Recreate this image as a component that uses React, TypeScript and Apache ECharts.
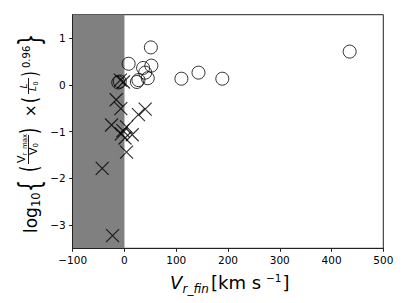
import React, { useEffect, useRef } from "react";
import * as echarts from "echarts";

const xTicks = [-100, 0, 100, 200, 300, 400, 500];
const yTicks = [-3, -2, -1, 0, 1];
const shadedRange = [-100, 0];

const circlePoints: number[][] = [
  [435, 0.71], [51, 0.80], [52, 0.41], [8, 0.45], [36, 0.36], [40, 0.26],
  [45, 0.14], [27, 0.10], [24, 0.06], [-9, 0.07], [-12, 0.05],
  [110, 0.13], [143, 0.26], [189, 0.13],
];

const crossPoints: number[][] = [
  [-23, -3.23], [-43, -1.79], [4, -1.44], [-25, -0.86], [-16, -0.32],
  [-7, -0.51], [40, -0.52], [27, -0.64], [-8, 0.1], [4, -0.9],
  [-3, -0.98], [-6, -1.05], [15, -1.07], [1, -1.14], [-2, 0.06],
];

const FONT = "DejaVu Sans";

function txt(u: number, v: number, text: string, size: number, italic = false) {
  return {
    type: "text",
    x: u,
    y: v,
    style: {
      text,
      fontSize: size,
      fontFamily: FONT,
      fontStyle: italic ? "italic" : "normal",
      fill: "#000",
      align: "left",
      verticalAlign: "middle",
      textAlign: "left",
      textVerticalAlign: "middle",
    },
  };
}

function tall(u: number, v: number, text: string, size: number, scale: number) {
  return {
    type: "group",
    x: u,
    y: v,
    scaleY: scale,
    children: [txt(0, 0, text, size)],
  };
}

function bar(u1: number, u2: number, v: number) {
  return {
    type: "line",
    shape: { x1: u1, y1: v, x2: u2, y2: v },
    style: { stroke: "#000", lineWidth: 0.9 },
  };
}

export default function App() {
  const ref = useRef<HTMLDivElement>(null);
  useEffect(() => {
    if (!ref.current) return;
    const chart = echarts.init(ref.current, null, { renderer: "svg" });
    const yLabel = {
      type: "group",
      x: 28.5,
      y: 233,
      rotation: Math.PI / 2,
      children: [
        txt(0, 2.2, "log", 17),
        txt(26, 7.2, "10", 11.5),
        tall(41, 1, "{", 19, 1.6),
        tall(61, 1, "(", 16, 1.5),
        txt(70, -7.4, "V", 11),
        txt(77.5, -4, "r_max", 7),
        bar(69, 98, 0),
        txt(78, 4.6, "V", 11),
        txt(85.5, 7.5, "0", 7),
        tall(99, 1, ")", 16, 1.5),
        txt(116, 2.5, "\u00d7", 15),
        tall(130, 1, "(", 15, 1.4),
        txt(144.5, -4.7, "L", 9, true),
        bar(139, 155, 0),
        txt(142, 4.8, "L", 9, true),
        txt(147.5, 7.2, "0", 6.5),
        tall(156, 1, ")", 15, 1.4),
        txt(165, -2, "0.96", 10),
        tall(187, 1, "}", 19, 1.6),
      ],
    };
    const base = 287;
    const xText = (x: number, y: number, text: string, size: number, italic = false) => ({
      type: "text",
      x,
      y,
      style: {
        text,
        fontSize: size,
        fontFamily: FONT,
        fontStyle: italic ? "italic" : "normal",
        fill: "#000",
        align: "left",
        verticalAlign: "bottom",
        textAlign: "left",
        textVerticalAlign: "bottom",
      },
    });
    chart.setOption({
      animation: false,
      backgroundColor: "#fff",
      grid: {
        left: 72.7,
        right: 20.7,
        top: 14.7,
        bottom: 54.7,
        show: true,
        borderColor: "#222",
        borderWidth: 1,
        backgroundColor: "transparent",
      },
      xAxis: {
        type: "value",
        min: -100,
        max: 500,
        interval: 100,
        axisLine: { show: true, onZero: false, lineStyle: { color: "#222" } },
        axisTick: { show: true, length: 3.5, lineStyle: { color: "#222" } },
        axisLabel: {
          margin: 6,
          color: "#000",
          fontSize: 10.5,
          fontFamily: FONT,
          formatter: (v: number) => (v < 0 ? "\u2212" + Math.abs(v) : String(v)),
          customValues: xTicks,
        },
        splitLine: { show: false },
        z: 10,
      },
      yAxis: {
        type: "value",
        min: -3.5,
        max: 1.5,
        axisLine: { show: true, onZero: false, lineStyle: { color: "#222" } },
        axisTick: { show: true, length: 3.5, lineStyle: { color: "#222" }, customValues: yTicks },
        axisLabel: {
          margin: 7,
          color: "#000",
          fontSize: 10.5,
          fontFamily: FONT,
          formatter: (v: number) => (v < 0 ? "\u2212" + Math.abs(v) : String(v)),
          customValues: yTicks,
        },
        splitLine: { show: false },
        z: 10,
      },
      graphic: [
        yLabel,
        xText(170, base + 4, "V", 18, true),
        xText(182.5, base + 7.5, "r_fin", 12, true),
        xText(211, base + 4, "[km s", 18),
        xText(266, base - 4, "\u22121", 10.5),
        xText(282.5, base + 4, "]", 18),
      ],
      series: [
        {
          type: "scatter",
          data: crossPoints,
          symbol: "path://M0,0L10,10M10,0L0,10",
          symbolSize: 13,
          itemStyle: { color: "none", borderColor: "#000", borderWidth: 1.2 },
          markArea: {
            silent: true,
            itemStyle: { color: "#808080", opacity: 1 },
            data: [[{ xAxis: shadedRange[0] }, { xAxis: shadedRange[1] }]],
          },
          z: 3,
        },
        {
          type: "scatter",
          data: circlePoints,
          symbol: "circle",
          symbolSize: 13,
          itemStyle: { color: "rgba(0,0,0,0)", borderColor: "#000", borderWidth: 1 },
          z: 4,
        },
      ],
    });
    return () => chart.dispose();
  }, []);
  return <div ref={ref} style={{ width: 404, height: 303, position: "absolute", left: 0, top: 0 }} />;
}
